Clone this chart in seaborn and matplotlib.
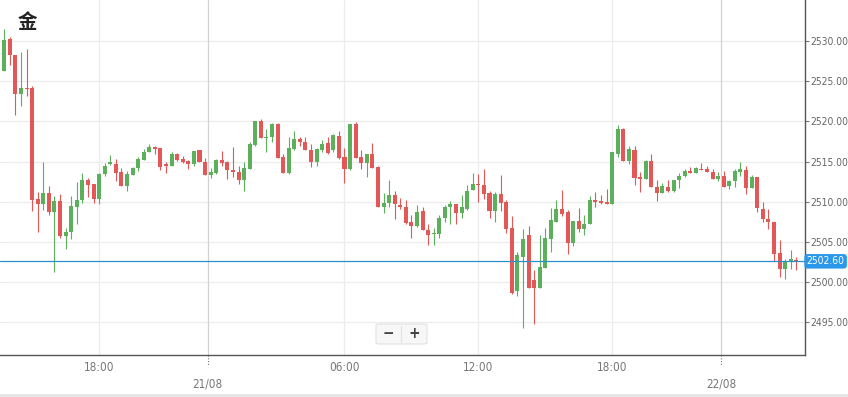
import numpy as np
import pandas as pd
import matplotlib
matplotlib.use("Agg")
import matplotlib.pyplot as plt
import seaborn as sns
from matplotlib import font_manager
from matplotlib.patches import Rectangle, FancyBboxPatch

# 15-minute candles
opens = [2526.3, 2530.25, 2528.3, 2523.4, 2524.1, 2524.2, 2510.3, 2509.7, 2511.1, 2508.7,
         2510.1, 2505.8, 2506.2, 2509.4, 2510.2, 2512.7, 2512.2, 2510.4, 2513.5, 2514.7,
         2514.7, 2513.7, 2512.0, 2513.3, 2514.2, 2515.2, 2516.2, 2516.8, 2516.7, 2514.7,
         2514.5, 2515.95, 2515.3, 2515.1, 2514.7, 2516.4, 2515.0, 2513.3, 2513.6, 2515.2,
         2515.0, 2513.9, 2513.7, 2512.7, 2514.1, 2517.1, 2520.1, 2517.9, 2518.0, 2519.7,
         2515.6, 2513.6, 2516.6, 2517.8, 2517.5, 2516.5, 2514.9, 2516.5, 2517.3, 2516.5,
         2518.2, 2515.6, 2514.1, 2519.7, 2515.6, 2514.8, 2516.0, 2514.3, 2509.4, 2509.9,
         2510.9, 2509.6, 2509.3, 2507.5, 2507.0, 2508.9, 2506.5, 2505.95, 2506.0, 2508.0,
         2509.3, 2509.7, 2508.6, 2509.1, 2511.5, 2512.1, 2512.1, 2511.15, 2508.8, 2511.0,
         2510.0, 2506.7, 2498.85, 2503.2, 2505.9, 2500.3, 2499.3, 2501.8, 2505.4, 2507.5,
         2509.1, 2508.7, 2504.9, 2507.6, 2506.6, 2507.3, 2510.2, 2510.1, 2510.0, 2509.7,
         2516.0, 2519.0, 2515.1, 2516.5, 2513.1, 2512.85, 2515.05, 2511.85, 2511.1, 2511.9,
         2511.4, 2512.7, 2513.2, 2513.8, 2513.55, 2514.1, 2514.1, 2513.75, 2512.9, 2513.15,
         2512.0, 2512.55, 2513.75, 2513.95, 2511.7, 2513.05, 2509.1, 2507.9, 2507.5, 2503.6,
         2501.6, 2502.7, 2502.8]
highs = [2531.5, 2530.5, 2528.3, 2528.6, 2529.0, 2524.4, 2511.2, 2514.9, 2512.0, 2510.7,
         2511.0, 2506.8, 2510.7, 2512.5, 2513.6, 2513.0, 2512.2, 2513.6, 2514.8, 2515.8,
         2515.3, 2514.2, 2513.8, 2514.3, 2515.6, 2516.6, 2517.2, 2517.0, 2516.7, 2515.0,
         2516.2, 2516.1, 2515.7, 2515.25, 2516.3, 2516.5, 2515.4, 2514.2, 2515.3, 2516.3,
         2515.1, 2516.8, 2514.5, 2514.9, 2517.4, 2520.0, 2520.3, 2519.1, 2519.8, 2519.8,
         2515.9, 2518.1, 2518.8, 2518.1, 2518.1, 2517.2, 2516.7, 2517.7, 2518.1, 2518.4,
         2518.8, 2516.7, 2519.7, 2519.9, 2516.4, 2516.0, 2517.3, 2514.5, 2511.1, 2512.7,
         2511.3, 2510.5, 2510.2, 2508.3, 2509.6, 2509.3, 2507.25, 2506.8, 2508.3, 2509.6,
         2510.1, 2509.7, 2510.9, 2512.05, 2513.6, 2513.5, 2514.1, 2511.3, 2511.2, 2513.3,
         2510.2, 2508.2, 2503.7, 2506.6, 2507.0, 2501.5, 2505.9, 2506.7, 2509.2, 2510.2,
         2511.5, 2509.0, 2507.6, 2509.2, 2508.4, 2510.7, 2511.2, 2510.9, 2511.6, 2516.2,
         2519.6, 2519.2, 2516.9, 2516.9, 2513.7, 2515.2, 2516.0, 2512.7, 2512.4, 2512.7,
         2512.7, 2513.55, 2514.05, 2514.3, 2514.35, 2514.8, 2514.45, 2514.05, 2513.65, 2513.8,
         2512.7, 2514.05, 2514.95, 2514.45, 2513.35, 2513.1, 2510.0, 2509.1, 2507.5, 2505.2,
         2502.95, 2504.0, 2503.1]
lows = [2526.3, 2527.0, 2520.8, 2521.9, 2523.1, 2508.9, 2506.2, 2509.0, 2508.4, 2501.25,
        2505.5, 2504.1, 2505.4, 2507.2, 2509.9, 2510.6, 2509.9, 2509.7, 2513.2, 2514.6,
        2512.6, 2512.0, 2511.3, 2513.3, 2513.8, 2515.2, 2516.2, 2516.0, 2513.9, 2513.6,
        2514.5, 2515.1, 2514.8, 2514.1, 2514.4, 2515.0, 2513.3, 2513.0, 2513.5, 2514.5,
        2512.9, 2513.1, 2512.2, 2511.3, 2514.1, 2516.9, 2517.9, 2516.2, 2517.4, 2515.5,
        2513.6, 2513.5, 2516.5, 2517.0, 2516.4, 2514.3, 2514.4, 2516.2, 2515.95, 2516.2,
        2515.3, 2512.3, 2513.9, 2515.5, 2514.05, 2513.1, 2514.2, 2509.3, 2508.6, 2509.3,
        2507.9, 2509.1, 2507.25, 2505.5, 2506.85, 2506.5, 2504.6, 2504.6, 2505.5, 2507.5,
        2507.2, 2507.25, 2508.0, 2509.0, 2511.5, 2510.0, 2510.4, 2508.0, 2507.45, 2508.9,
        2506.1, 2498.55, 2498.3, 2494.3, 2499.3, 2494.8, 2499.3, 2501.8, 2503.7, 2507.5,
        2508.25, 2503.5, 2504.5, 2506.2, 2505.9, 2507.3, 2509.4, 2509.7, 2509.7, 2509.7,
        2515.6, 2515.1, 2514.7, 2512.1, 2511.2, 2512.85, 2511.8, 2510.1, 2511.1, 2511.2,
        2511.2, 2511.7, 2513.1, 2513.55, 2513.55, 2513.95, 2513.7, 2512.9, 2512.6, 2511.9,
        2511.6, 2511.8, 2513.25, 2510.95, 2511.7, 2508.7, 2507.45, 2506.6, 2502.7, 2500.7,
        2500.4, 2501.6, 2501.5]
closes = [2530.1, 2528.2, 2523.4, 2524.2, 2524.0, 2510.2, 2509.7, 2511.1, 2508.7, 2510.1,
          2505.7, 2506.3, 2509.5, 2510.2, 2512.7, 2512.1, 2510.4, 2513.5, 2514.5, 2514.9,
          2513.6, 2512.0, 2513.4, 2514.2, 2515.3, 2516.2, 2516.8, 2516.6, 2514.3, 2514.5,
          2515.95, 2515.2, 2514.9, 2514.7, 2516.3, 2515.0, 2513.3, 2513.7, 2515.2, 2514.8,
          2513.9, 2513.7, 2512.7, 2514.2, 2517.2, 2520.0, 2517.9, 2518.1, 2519.7, 2515.5,
          2513.6, 2516.7, 2517.8, 2517.5, 2516.4, 2514.9, 2516.6, 2517.2, 2516.1, 2518.3,
          2515.5, 2514.1, 2519.7, 2515.5, 2514.8, 2516.0, 2514.2, 2509.4, 2509.9, 2510.8,
          2509.7, 2509.3, 2507.4, 2507.0, 2508.7, 2506.5, 2505.9, 2506.1, 2508.0, 2509.3,
          2509.7, 2508.6, 2509.3, 2511.4, 2512.2, 2512.05, 2511.0, 2508.8, 2511.0, 2509.9,
          2506.6, 2498.7, 2503.35, 2505.4, 2499.3, 2499.3, 2501.95, 2505.5, 2507.75, 2509.1,
          2508.5, 2504.9, 2507.6, 2506.6, 2507.3, 2510.2, 2510.0, 2509.8, 2509.7, 2516.2,
          2519.0, 2515.1, 2516.6, 2513.0, 2512.85, 2515.1, 2511.8, 2511.1, 2512.0, 2511.4,
          2512.7, 2513.2, 2513.8, 2513.55, 2514.25, 2513.95, 2513.7, 2512.9, 2513.2, 2511.9,
          2512.55, 2513.8, 2514.1, 2511.7, 2513.05, 2509.2, 2507.9, 2507.45, 2503.5, 2501.6,
          2502.6, 2502.8, 2502.6]

# time axis labels (positions in candle index)
tick_pos = [17, 36.5, 61, 85, 109, 128.5]
tick_labels = ["18:00", "21/08", "06:00", "12:00", "18:00", "22/08"]
price_ticks = [2495, 2500, 2505, 2510, 2515, 2520, 2525, 2530]
last_price = 2502.60
title = "金"

UP = "#5cb05c"
DOWN = "#e45757"

sns.set_theme(style="white")

# pick a narrow font for the axis labels if one is installed
fonts = font_manager.fontManager.ttflist
names = {f.name for f in fonts}
stretch = "normal"
if "Liberation Sans Narrow" in names:
    fam, fs = "Liberation Sans Narrow", 8.3
elif any(f.name == "DejaVu Sans" and "condensed" in str(f.stretch) for f in fonts):
    fam, fs, stretch = "DejaVu Sans", 7.4, "condensed"
else:
    fam, fs = "Liberation Sans", 6.9
plt.rcParams['font.family'] = [fam, 'DejaVu Sans']
plt.rcParams['font.stretch'] = stretch

df = pd.DataFrame({"open": opens, "high": highs, "low": lows, "close": closes})
df["idx"] = np.arange(len(df))
df["color"] = np.where(df["close"] >= df["open"], UP, DOWN)
df["bottom"] = df[["open", "close"]].min(axis=1)
df["height"] = (df["close"] - df["open"]).abs().clip(lower=0.13)

fig = plt.figure(figsize=(8.48, 3.97), dpi=100)
ax = fig.add_axes([0, 42 / 397, 805 / 848, 355 / 397])

# grid
for p in price_ticks:
    ax.axhline(p, color="#ececec", lw=0.9, zorder=0)
for p, lab in zip(tick_pos, tick_labels):
    is_date = "/" in lab
    ax.axvline(p, color="#d2d2d2" if is_date else "#ececec", lw=0.9, zorder=0)

# candles
ax.vlines(df["idx"], df["low"], df["high"], colors=df["color"], lw=0.8, zorder=2)
ax.bar(df["idx"], df["height"], bottom=df["bottom"], width=0.72,
       color=df["color"], edgecolor="none", zorder=3)

# last price line
ax.axhline(last_price, color="#2c8fc8", lw=0.9, zorder=4)

ax.set_xlim(-0.77, 143.57)
ax.set_ylim(2490.95, 2535.1)

for s in ["top", "left"]:
    ax.spines[s].set_visible(False)
for s in ["right", "bottom"]:
    ax.spines[s].set_color("#555555")
    ax.spines[s].set_linewidth(1)

ax.yaxis.tick_right()
ax.set_yticks(price_ticks)
ax.set_yticklabels([f"{p:.2f}" for p in price_ticks], fontsize=fs, color="#666666")
ax.tick_params(axis="y", length=3, width=0.8, color="#777777", pad=1)

ax.set_xticks(tick_pos)
ax.set_xticklabels([])
ax.tick_params(axis="x", length=4, width=0.8, color="#999999")
xt = ax.get_xaxis_transform()
for p, lab in zip(tick_pos, tick_labels):
    if "/" in lab:
        ax.plot([p, p], [0, -0.03], transform=xt, color="#777777", lw=0.8,
                ls=(0, (1, 1.5)), clip_on=False)
        ax.text(p, -0.082, lab, transform=xt, ha="center", va="center",
                fontsize=fs + 1, color="#777777")
    else:
        ax.text(p, -0.034, lab, transform=xt, ha="center", va="center",
                fontsize=fs + 1, color="#777777")

# last price tag
ax.text(1.002, last_price, f"{last_price:.2f}", transform=ax.get_yaxis_transform(),
        ha="left", va="center", fontsize=fs, color="white",
        bbox=dict(boxstyle="round,pad=0.22,rounding_size=0.3", fc="#2b98ea", ec="none"))

# title
fig.text(18 / 848, 1 - 22 / 397, title, family=['Noto Sans CJK SC', 'DejaVu Sans'],
         fontsize=14, fontweight="bold", color="#222222", va="center", ha="left")

# zoom buttons
fig.patches.append(FancyBboxPatch((376 / 848, 1 - 344 / 397), 51 / 848, 20 / 397,
                                  boxstyle="round,pad=0,rounding_size=0.004",
                                  transform=fig.transFigure, fc="#f7f7f7",
                                  ec="#e2e2e2", lw=0.8))
fig.add_artist(plt.Line2D([401 / 848, 401 / 848], [1 - 342 / 397, 1 - 326 / 397],
                          transform=fig.transFigure, color="#e0e0e0", lw=0.8))
fig.text(388 / 848, 1 - 334 / 397, "−", family="DejaVu Sans", fontsize=11,
         fontweight="bold", color="#444444", ha="center", va="center")
fig.text(414 / 848, 1 - 334 / 397, "+", family="DejaVu Sans", fontsize=11,
         fontweight="bold", color="#444444", ha="center", va="center")

# bottom strip
fig.patches.append(Rectangle((0, 0), 1, 3 / 397, transform=fig.transFigure,
                             fc="#e6e6e6", ec="none"))

fig.savefig("out.png", dpi=100)
